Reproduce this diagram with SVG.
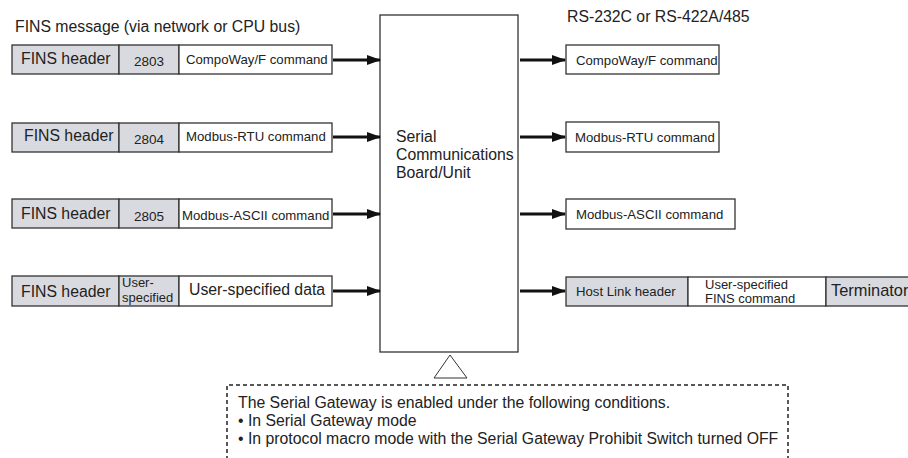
<svg xmlns="http://www.w3.org/2000/svg" width="908" height="458" viewBox="0 0 908 458">
<defs>
<style>
text{font-family:"Liberation Sans",Arial,sans-serif;fill:#222}
.box{stroke:#333;stroke-width:1.3;fill:#fff}
.g{fill:#d9dadf}
.conn line{stroke:#111;stroke-width:3}
.t15{font-size:15.8px}
.t13{font-size:13.5px}
.t12{font-size:13.2px}
.t11{font-size:13px}
.mid{text-anchor:middle}
</style>
<marker id="ah" markerWidth="14" markerHeight="10" refX="13" refY="5" orient="auto" markerUnits="userSpaceOnUse">
<path d="M0,0 L14,5 L0,10 z" fill="#111"/>
</marker>
</defs>
<rect width="908" height="458" fill="#fff"/>
<text class="t15" x="15" y="32">FINS message (via network or CPU bus)</text>
<text class="t15" x="567" y="22">RS-232C or RS-422A/485</text>

<g id="in1">
<rect class="box g" x="12" y="45" width="107" height="29"/>
<rect class="box g" x="119" y="45" width="60" height="29"/>
<rect class="box" x="179" y="45" width="153" height="29"/>
<text class="t15" x="21" y="64">FINS header</text>
<text class="t13 mid" x="149" y="66">2803</text>
<text class="t12" x="186" y="64">CompoWay/F command</text>
</g>
<g id="in2">
<rect class="box g" x="12" y="123" width="107" height="29"/>
<rect class="box g" x="119" y="123" width="60" height="29"/>
<rect class="box" x="179" y="123" width="153" height="29"/>
<text class="t15" x="24" y="141">FINS header</text>
<text class="t13 mid" x="149" y="144">2804</text>
<text class="t12" x="186" y="141">Modbus-RTU command</text>
</g>
<g id="in3">
<rect class="box g" x="12" y="199" width="107" height="29"/>
<rect class="box g" x="119" y="199" width="60" height="29"/>
<rect class="box" x="179" y="199" width="153" height="29"/>
<text class="t15" x="21" y="219">FINS header</text>
<text class="t13 mid" x="149" y="221">2805</text>
<text class="t12" x="182" y="220">Modbus-ASCII command</text>
</g>
<g id="in4">
<rect class="box g" x="12" y="276" width="107" height="30"/>
<rect class="box g" x="119" y="276" width="60" height="30"/>
<rect class="box" x="179" y="276" width="153" height="30"/>
<text class="t15" x="21" y="297">FINS header</text>
<text class="t11" x="122" y="287">User-</text>
<text class="t11" x="122" y="302">specified</text>
<text class="t15" x="189" y="295">User-specified data</text>
</g>

<g id="unit">
<rect class="box" x="380" y="15" width="138" height="337"/>
<text class="t15" x="396" y="142">Serial</text>
<text class="t15" x="396" y="160">Communications</text>
<text class="t15" x="396" y="178">Board/Unit</text>
</g>

<g id="out1">
<rect class="box" x="566" y="45" width="153" height="29"/>
<text class="t12" x="576" y="65">CompoWay/F command</text>
</g>
<g id="out2">
<rect class="box" x="566" y="122" width="153" height="30"/>
<text class="t12" x="575" y="142">Modbus-RTU command</text>
</g>
<g id="out3">
<rect class="box" x="566" y="199" width="169" height="30"/>
<text class="t12" x="576" y="219">Modbus-ASCII command</text>
</g>
<g id="out4">
<rect class="box g" x="566" y="277" width="122" height="29"/>
<rect class="box" x="688" y="277" width="138" height="29"/>
<rect class="box g" x="826" y="277" width="90" height="29"/>
<text class="t12" x="576" y="296">Host Link header</text>
<text class="t11" x="705" y="289">User-specified</text>
<text class="t11" x="705" y="303">FINS command</text>
<text style="font-size:16.4px" x="831" y="296">Terminator</text>
</g>

<g id="connectors" class="conn">
<line x1="333" y1="60" x2="380" y2="60" marker-end="url(#ah)"/>
<line x1="333" y1="137" x2="380" y2="137" marker-end="url(#ah)"/>
<line x1="333" y1="214" x2="380" y2="214" marker-end="url(#ah)"/>
<line x1="333" y1="291" x2="380" y2="291" marker-end="url(#ah)"/>
<line x1="520" y1="60" x2="565" y2="60" marker-end="url(#ah)"/>
<line x1="520" y1="137" x2="565" y2="137" marker-end="url(#ah)"/>
<line x1="520" y1="214" x2="565" y2="214" marker-end="url(#ah)"/>
<line x1="520" y1="291" x2="565" y2="291" marker-end="url(#ah)"/>
</g>

<g id="note">
<polygon points="450,355 467,378 434,378" fill="#fff" stroke="#333" stroke-width="1"/>
<path d="M227,460 V385 H788 V460" fill="none" stroke="#222" stroke-width="1.5" stroke-dasharray="4,3"/>
<text class="t15" x="238" y="408">The Serial Gateway is enabled under the following conditions.</text>
<text class="t15" x="238" y="426">• In Serial Gateway mode</text>
<text class="t15" x="238" y="444">• In protocol macro mode with the Serial Gateway Prohibit Switch turned OFF</text>
</g>
</svg>
